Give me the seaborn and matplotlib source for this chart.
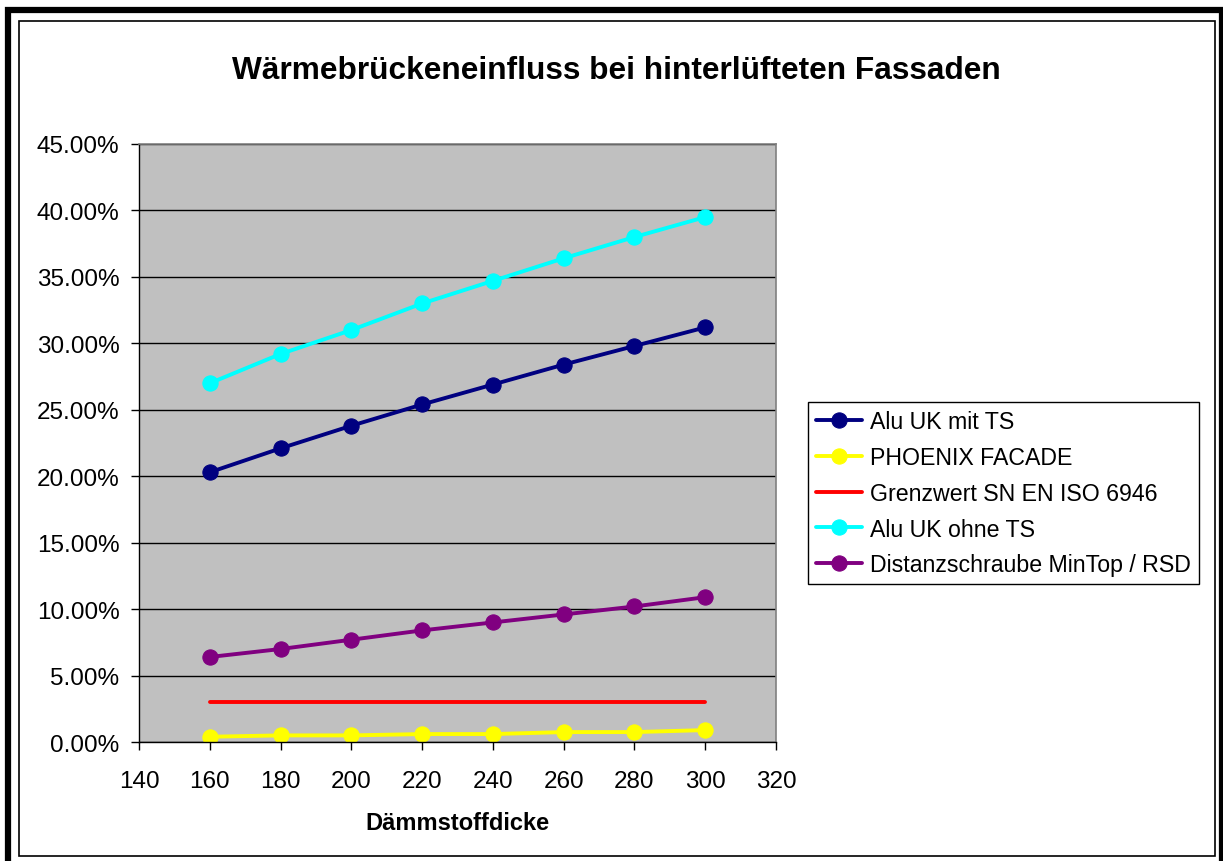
import matplotlib
matplotlib.use("Agg")
import matplotlib.pyplot as plt
import matplotlib.patches as mpatches
import seaborn as sns
import pandas as pd
from matplotlib.ticker import PercentFormatter

sns.set_theme(style="white")
plt.rcParams["font.family"] = ["Liberation Sans", "DejaVu Sans"]
plt.rcParams["text.color"] = "black"

daemmstoff = [160, 180, 200, 220, 240, 260, 280, 300]
alu_mit_ts = [0.203, 0.221, 0.238, 0.254, 0.269, 0.284, 0.298, 0.312]
phoenix = [0.004, 0.005, 0.005, 0.006, 0.006, 0.0075, 0.0075, 0.009]
grenzwert = [0.03, 0.03, 0.03, 0.03, 0.03, 0.03, 0.03, 0.03]
alu_ohne_ts = [0.270, 0.292, 0.310, 0.330, 0.347, 0.364, 0.380, 0.395]
distanzschraube = [0.064, 0.070, 0.077, 0.084, 0.090, 0.096, 0.102, 0.109]

SERIES = [
    ("Alu UK mit TS", alu_mit_ts, "#000080", True),
    ("PHOENIX FACADE", phoenix, "#FFFF00", True),
    ("Grenzwert SN EN ISO 6946", grenzwert, "#FF0000", False),
    ("Alu UK ohne TS", alu_ohne_ts, "#00FFFF", True),
    ("Distanzschraube MinTop / RSD", distanzschraube, "#800080", True),
]

fig = plt.figure(figsize=(12.23, 8.62), dpi=100)
fig.patch.set_facecolor("white")

# outer frames
fig.add_artist(mpatches.Rectangle((0.0065, -0.01), 0.993, 0.997, transform=fig.transFigure,
                                  fill=False, edgecolor="black", linewidth=4.5))
fig.add_artist(mpatches.Rectangle((0.0157, 0.006), 0.978, 0.968, transform=fig.transFigure,
                                  fill=False, edgecolor="black", linewidth=1.2))

ax = fig.add_axes([0.1137, 0.138, 0.5208, 0.6938])
ax.set_facecolor("#C0C0C0")

for name, values, color, has_marker in SERIES:
    df = pd.DataFrame({"x": daemmstoff, "y": values})
    sns.lineplot(data=df, x="x", y="y", ax=ax, color=color, linewidth=2.8,
                 marker="o" if has_marker else None, markersize=11,
                 markeredgecolor=color, label=name,
                 solid_capstyle="round")

ax.set_xlim(140, 320)
ax.set_ylim(0, 0.45)
ax.set_xticks(range(140, 321, 20))
ax.set_yticks([i * 0.05 for i in range(10)])
ax.yaxis.set_major_formatter(PercentFormatter(1.0, decimals=2))
ax.grid(axis="y", color="black", linewidth=1.0)
ax.grid(axis="x", visible=False)
ax.set_axisbelow(True)

for side in ["top", "right"]:
    ax.spines[side].set_color("#808080")
    ax.spines[side].set_linewidth(1.2)
for side in ["left", "bottom"]:
    ax.spines[side].set_color("black")
    ax.spines[side].set_linewidth(1.0)

ax.tick_params(axis="both", direction="out", length=6, width=1, color="black",
               labelsize=17.5, labelcolor="black", left=True, bottom=True, pad=8)
ax.tick_params(axis="x", pad=14)

ax.set_xlabel("Dämmstoffdicke", fontsize=17, fontweight="bold", labelpad=14, color="black")
ax.set_ylabel("")

fig.text(0.504, 0.918, "Wärmebrückeneinfluss bei hinterlüfteten Fassaden",
         ha="center", va="center", fontsize=22.8, fontweight="bold", color="black")

leg = ax.legend(loc="center left", bbox_to_anchor=(1.05, 0.416), fontsize=16.7,
                frameon=True, fancybox=False, edgecolor="black", framealpha=1,
                handlelength=2.0, handletextpad=0.35, borderpad=0.35,
                labelspacing=0.55, borderaxespad=0.0)
leg.get_frame().set_linewidth(1.0)
for t in leg.get_texts():
    t.set_color("black")

fig.savefig("out.png", dpi=100)
